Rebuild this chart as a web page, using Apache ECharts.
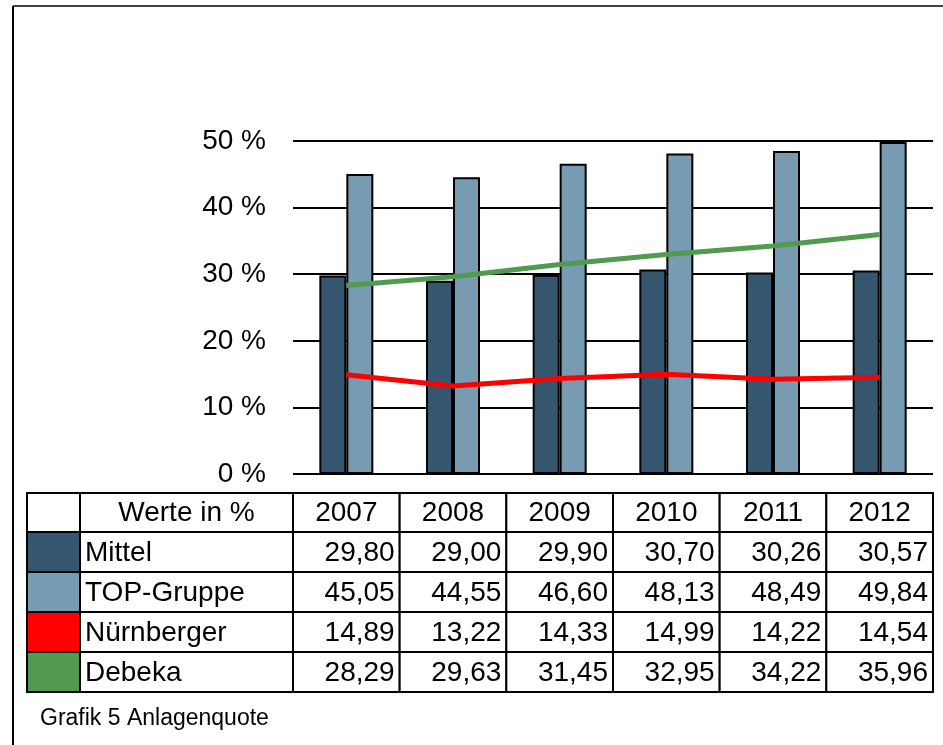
<!DOCTYPE html>
<html>
<head>
<meta charset="utf-8">
<script src="https://cdn.jsdelivr.net/npm/echarts@6/dist/echarts.min.js"></script>
<style>
  html, body { margin: 0; padding: 0; background: #fff; }
  #chart { width: 943px; height: 745px; }
</style>
</head>
<body>
<div id="chart"></div>
<script>
// Daten: Anlagenquote in %
const years = ['2007', '2008', '2009', '2010', '2011', '2012']
const mittel = [29.80, 29.00, 29.90, 30.70, 30.26, 30.57]
const topGruppe = [45.05, 44.55, 46.60, 48.13, 48.49, 49.84]
const nuernberger = [14.89, 13.22, 14.33, 14.99, 14.22, 14.54]
const debeka = [28.29, 29.63, 31.45, 32.95, 34.22, 35.96]
const yTicks = [0, 10, 20, 30, 40, 50]
const headerLabel = 'Werte in %'
const caption = 'Grafik 5 Anlagenquote'

const FONT = '"Liberation Sans", Arial, sans-serif'
const rows = [
  { name: 'Mittel', data: mittel, color: '#34566f' },
  { name: 'TOP-Gruppe', data: topGruppe, color: '#779bb0' },
  { name: 'Nürnberger', data: nuernberger, color: '#ff0000' },
  { name: 'Debeka', data: debeka, color: '#519a4f' },
]

// Layout
const gridLeft = 293, gridRight = 933, gridTop = 141, gridBottom = 474
const colW = (gridRight - gridLeft) / years.length
const tblLeft = 27, swatchRight = 80
const tblTop = 493, headerH = 39, rowH = 40

const fmt = v => v.toFixed(2).replace('.', ',')

function buildTable() {
  const els = []
  const colEdges = [tblLeft, swatchRight, gridLeft]
  for (let i = 1; i <= years.length; i++) colEdges.push(gridLeft + i * colW)
  const rowEdges = [tblTop, tblTop + headerH]
  rows.forEach((r, i) => rowEdges.push(tblTop + headerH + (i + 1) * rowH))

  // Zellen
  for (let ri = 0; ri < rowEdges.length - 1; ri++) {
    for (let ci = 0; ci < colEdges.length - 1; ci++) {
      const fill = (ri > 0 && ci === 0) ? rows[ri - 1].color : '#fff'
      els.push({
        type: 'rect',
        shape: { x: colEdges[ci], y: rowEdges[ri], width: colEdges[ci + 1] - colEdges[ci], height: rowEdges[ri + 1] - rowEdges[ri] },
        style: { fill, stroke: '#000', lineWidth: 2 },
        z: 1,
      })
    }
  }
  const midY = ri => (rowEdges[ri] + rowEdges[ri + 1]) / 2 + 1
  const txt = (text, x, y, align) => ({
    type: 'text', x, y, z: 2,
    style: { text, fontSize: 28, fontFamily: FONT, fill: '#000', textAlign: align, textVerticalAlign: 'middle' },
  })
  // Kopfzeile
  els.push(txt(headerLabel, (swatchRight + gridLeft) / 2, midY(0), 'center'))
  years.forEach((y, i) => els.push(txt(y, gridLeft + (i + 0.5) * colW, midY(0), 'center')))
  // Datenzeilen
  rows.forEach((r, ri) => {
    els.push(txt(r.name, swatchRight + 5, midY(ri + 1), 'left'))
    r.data.forEach((v, i) => els.push(txt(fmt(v), gridLeft + (i + 1) * colW - 5, midY(ri + 1), 'right')))
  })
  // Bildunterschrift
  els.push({
    type: 'text', x: 40, y: 719, z: 2,
    style: { text: caption, fontSize: 23, fontFamily: FONT, fill: '#000', textAlign: 'left', textVerticalAlign: 'middle' },
  })
  // Rahmen
  els.push({ type: 'line', shape: { x1: 13, y1: 6, x2: 943, y2: 6 }, style: { stroke: '#444', lineWidth: 2 } })
  els.push({ type: 'line', shape: { x1: 13, y1: 6, x2: 13, y2: 745 }, style: { stroke: '#000', lineWidth: 2 } })
  return els
}

const chart = echarts.init(document.getElementById('chart'), null, { renderer: 'canvas' })
chart.setOption({
  animation: false,
  backgroundColor: '#fff',
  textStyle: { fontFamily: FONT },
  grid: { left: gridLeft, width: gridRight - gridLeft, top: gridTop, height: gridBottom - gridTop },
  xAxis: {
    type: 'category',
    data: years,
    boundaryGap: true,
    axisLine: { show: false },
    axisTick: { show: false },
    axisLabel: { show: false },
    splitLine: { show: false },
  },
  yAxis: {
    type: 'value',
    min: yTicks[0],
    max: yTicks[yTicks.length - 1],
    interval: yTicks[1] - yTicks[0],
    axisLine: { show: false },
    axisTick: { show: false },
    axisLabel: { formatter: '{value} %', fontSize: 28, fontFamily: FONT, color: '#000', margin: 27 },
    splitLine: { lineStyle: { color: '#000', width: 2 } },
  },
  series: [
    {
      name: rows[0].name, type: 'bar', data: mittel, barWidth: 27, barGap: '0%',
      itemStyle: { color: rows[0].color, borderColor: '#000', borderWidth: 2 },
    },
    {
      name: rows[1].name, type: 'bar', data: topGruppe, barWidth: 27, barGap: '0%',
      itemStyle: { color: rows[1].color, borderColor: '#000', borderWidth: 2 },
    },
    {
      name: rows[2].name, type: 'line', data: nuernberger, showSymbol: false, symbol: 'none', z: 5,
      lineStyle: { color: rows[2].color, width: 5 },
    },
    {
      name: rows[3].name, type: 'line', data: debeka, showSymbol: false, symbol: 'none', z: 5,
      lineStyle: { color: rows[3].color, width: 5 },
    },
  ],
  graphic: buildTable(),
})
</script>
</body>
</html>
